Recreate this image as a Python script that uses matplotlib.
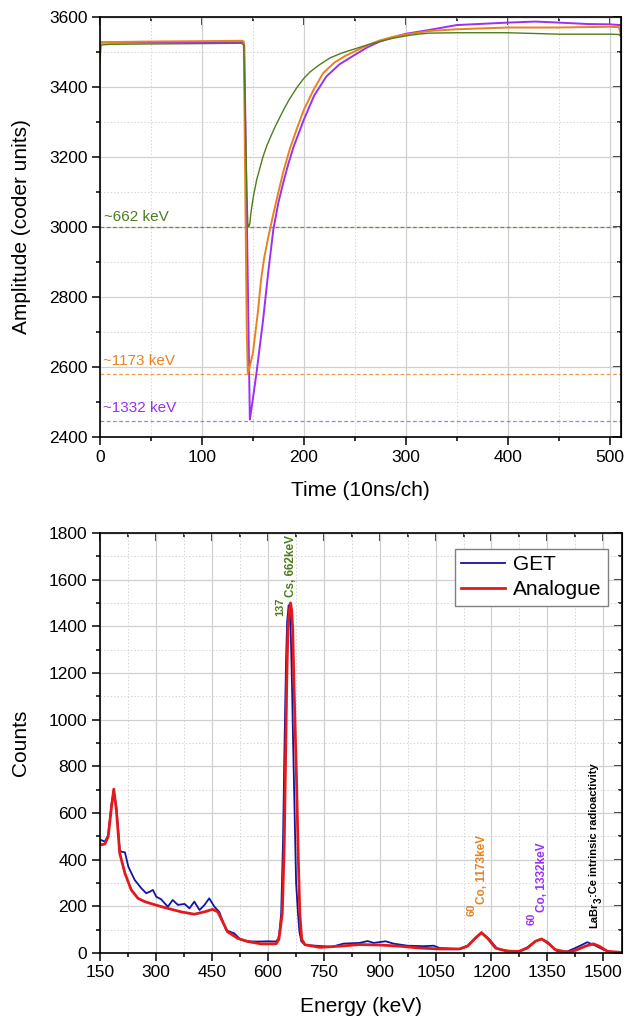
import matplotlib
matplotlib.use('Agg')
import matplotlib.pyplot as plt
from matplotlib.ticker import MultipleLocator
from matplotlib.transforms import offset_copy

plt.rcParams['font.family'] = ['Liberation Sans', 'DejaVu Sans']
plt.rcParams['mathtext.fontset'] = 'custom'
plt.rcParams['mathtext.rm'] = 'Liberation Sans'
plt.rcParams['mathtext.bf'] = 'Liberation Sans:bold'
plt.rcParams['mathtext.default'] = 'regular'

# ---------------- Top panel: pulses ----------------
green_ch = [0, 1, 10, 50, 100, 139, 141, 142, 143, 144, 145, 146, 147, 148, 150.5, 153.7, 157, 160, 164,
            168, 172, 176.5, 181, 186, 193, 200, 206, 215, 225.5, 237, 250, 262, 274.5, 287, 300, 312,
            323, 350, 400, 450, 500, 509, 511]
green_val = [3472, 3520, 3522, 3523, 3524, 3525, 3520, 3400, 3250, 3100, 3010, 3000, 3010, 3040, 3088,
             3135, 3170, 3202, 3235, 3262, 3288, 3314, 3340, 3366, 3398, 3425, 3443, 3463, 3483, 3497,
             3509, 3520, 3530, 3539, 3546, 3551, 3554, 3555, 3555, 3551, 3551, 3550, 3544]

orange_ch = [0, 1, 50, 100, 139, 141, 144, 145, 146, 150, 155, 158, 161, 165, 169.5, 175, 180, 186,
             193, 200, 210, 219, 230, 240, 250, 262, 274.5, 287, 300, 323, 350, 400, 450, 500, 509, 511]
orange_val = [3525, 3528, 3530, 3531, 3532, 3530, 2700, 2583, 2590, 2640, 2760, 2850, 2911, 2970, 3030,
              3100, 3160, 3221, 3280, 3335, 3395, 3440, 3470, 3488, 3502, 3519, 3533, 3543, 3550, 3560,
              3565, 3570, 3570, 3572, 3571, 3549]

purple_ch = [0, 1, 100, 140, 141.5, 147, 150, 153.5, 160, 165, 170, 175, 179.7, 185, 190, 200, 210,
             222, 235, 250, 262, 274.5, 287, 300, 323, 350, 400, 427, 450, 478, 500, 510, 511]
purple_val = [3525, 3527, 3528, 3528, 3520, 2450, 2510, 2583, 2735, 2870, 2992, 3070, 3126, 3183, 3230,
              3307, 3375, 3430, 3465, 3492, 3513, 3530, 3542, 3552, 3563, 3577, 3584, 3587, 3584, 3580,
              3579, 3577, 3572]

level_662 = 3000
level_1173 = 2580
level_1332 = 2446

# ---------------- Bottom panel: spectra ----------------
ana_E = [150, 153, 163, 172, 181, 187, 194, 203, 217, 234, 252, 270, 300, 332, 368, 403, 430, 452, 466,
         479, 492, 519, 546, 582, 617, 623, 630, 639, 644, 647, 651, 654, 658, 661, 664, 667, 670, 677,
         682, 686, 691, 700, 739, 793, 846, 900, 954, 1007, 1061, 1114, 1136, 1157, 1173, 1189, 1211,
         1243, 1275, 1296, 1318, 1334, 1350, 1371, 1404, 1425, 1452, 1473, 1489, 1511, 1543, 1550]
ana_counts = [470, 463, 467, 498, 626, 702, 612, 427, 341, 270, 234, 220, 205, 191, 176, 166, 176, 187,
              176, 134, 91, 63, 49, 39, 39, 40, 59, 170, 450, 750, 1170, 1384, 1470, 1500, 1470, 1384,
              1170, 750, 400, 170, 59, 35, 24, 29, 36, 34, 29, 21, 17, 17, 29, 64, 86, 64, 21, 7, 7, 21,
              50, 60, 46, 14, 3, 11, 29, 39, 29, 7, 3, 2]

get_E = [150, 153, 163, 172, 181, 187, 194, 203, 207, 217, 226, 243, 261, 274, 283, 292, 301, 314, 332,
         345, 359, 377, 390, 403, 417, 430, 443, 457, 470, 488, 500, 510, 528, 555, 582, 600, 622, 628,
         631, 636, 641, 645, 649, 652, 656, 659, 662, 665, 668, 672, 676, 681, 685, 690, 700, 729, 771,
         803, 846, 868, 884, 916, 937, 975, 1018, 1045, 1061, 1114, 1136, 1157, 1173, 1195, 1216, 1243,
         1275, 1296, 1318, 1334, 1355, 1377, 1404, 1425, 1457, 1479, 1500, 1521, 1550]
get_counts = [480, 484, 477, 505, 640, 692, 627, 441, 434, 431, 370, 313, 277, 256, 262, 270, 241, 230,
              198, 227, 206, 210, 191, 220, 184, 205, 234, 198, 176, 98, 90, 84, 56, 49, 49, 50, 49, 60,
              84, 170, 484, 900, 1250, 1420, 1490, 1470, 1350, 1150, 900, 600, 300, 170, 90, 50, 34, 31,
              26, 40, 43, 51, 43, 50, 40, 31, 29, 31, 21, 17, 31, 64, 89, 57, 17, 10, 7, 24, 50, 60, 36,
              7, 7, 21, 46, 31, 14, 4, 3]

C_GREEN = '#4e7d1c'
C_ORANGE = '#e8821e'
C_PURPLE = '#9b2ff5'
C_BLUE = '#1414a0'
C_RED = '#e31a1c'

fig = plt.figure(figsize=(6.26, 10.18), dpi=100)
ax1 = fig.add_axes([0.1597, 0.5707, 0.8323, 0.4126])
ax2 = fig.add_axes([0.1597, 0.0639, 0.8339, 0.4126])


def style(ax, xmaj, xmin, ymaj, ymin):
    ax.xaxis.set_major_locator(MultipleLocator(xmaj))
    ax.xaxis.set_minor_locator(MultipleLocator(xmin))
    ax.yaxis.set_major_locator(MultipleLocator(ymaj))
    ax.yaxis.set_minor_locator(MultipleLocator(ymin))
    ax.grid(which='major', color='#d0d0d0', lw=0.9, ls='-')
    ax.grid(which='minor', color='#d6d6d6', lw=0.7, ls=(0, (1.5, 2)))
    ax.set_axisbelow(True)
    ax.tick_params(which='both', direction='out', top=False, right=False,
                   labelsize=12.5, width=1.1, pad=3)
    ax.tick_params(which='major', length=6)
    ax.tick_params(which='minor', length=3)
    for s in ax.spines.values():
        s.set_linewidth(1.2)
    sx = ax.secondary_xaxis('top')
    sx.xaxis.set_major_locator(MultipleLocator(xmaj))
    sx.xaxis.set_minor_locator(MultipleLocator(xmin))
    sx.tick_params(which='both', direction='in', labeltop=False, width=1.1)
    sx.tick_params(which='major', length=6)
    sx.tick_params(which='minor', length=3)
    sy = ax.secondary_yaxis('right')
    sy.yaxis.set_major_locator(MultipleLocator(ymaj))
    sy.yaxis.set_minor_locator(MultipleLocator(ymin))
    sy.tick_params(which='both', direction='in', labelright=False, width=1.1)
    sy.tick_params(which='major', length=6)
    sy.tick_params(which='minor', length=3)


# ---- top
ax1.axhline(level_662, color=C_GREEN, lw=0.9, ls=(0, (3, 2)), alpha=0.8)
ax1.axhline(level_1173, color=C_ORANGE, lw=0.9, ls=(0, (3, 2)), alpha=0.8)
ax1.axhline(level_1332, color=C_PURPLE, lw=0.9, ls=(0, (3, 2)), alpha=0.7)
ax1.plot(purple_ch, purple_val, color=C_PURPLE, lw=1.4)
ax1.plot(orange_ch, orange_val, color=C_ORANGE, lw=1.4)
ax1.plot(green_ch, green_val, color=C_GREEN, lw=1.0)
ax1.text(4, level_662 + 8, '~662 keV', color=C_GREEN, fontsize=11, va='bottom', ha='left')
ax1.text(3, level_1173 + 16, '~1173 keV', color=C_ORANGE, fontsize=11, va='bottom', ha='left')
ax1.text(3, level_1332 + 16, '~1332 keV', color=C_PURPLE, fontsize=11, va='bottom', ha='left')
ax1.set_xlim(0, 511)
ax1.set_ylim(2400, 3600)
style(ax1, 100, 50, 200, 100)

# ---- bottom
ax2.plot(get_E, get_counts, color=C_BLUE, lw=1.3, label='GET')
ax2.plot(ana_E, ana_counts, color=C_RED, lw=2.0, label='Analogue')
ax2.set_xlim(150, 1550)
ax2.set_ylim(0, 1800)
style(ax2, 150, 75, 200, 100)
leg = ax2.legend(loc='upper right', bbox_to_anchor=(0.973, 0.962), borderaxespad=0,
                 fontsize=15, fancybox=False, framealpha=1, edgecolor='#808080',
                 handlelength=2.1, handletextpad=0.4, borderpad=0.3, labelspacing=0.3)
leg.get_frame().set_linewidth(1.0)

rot_kw = dict(rotation=90, rotation_mode='anchor', va='baseline', fontweight='bold')


def isotope(x, y, mass, rest, color):
    ax2.text(x, y, rest, color=color, ha='left', fontsize=8.5, **rot_kw)
    tr = offset_copy(ax2.transData, fig=fig, x=-11, y=0, units='dots')
    ax2.text(x, y, mass, color=color, ha='right', fontsize=8, transform=tr, **rot_kw)


isotope(670, 1525, '137', 'Cs, 662keV', C_GREEN)
isotope(1183, 210, '60', 'Co, 1173keV', C_ORANGE)
isotope(1344, 174, '60', 'Co, 1332keV', C_PURPLE)

# LaBr3 label in pieces (subscript)
fig.canvas.draw()
renderer = fig.canvas.get_renderer()
t1 = ax2.text(1484, 107, 'LaBr', color='black', ha='left', fontsize=8, **rot_kw)
h1 = t1.get_window_extent(renderer).height
t2 = ax2.text(1484, 107, '3', color='black', ha='left', fontsize=7,
              transform=offset_copy(ax2.transData, fig=fig, x=4, y=h1, units='dots'), **rot_kw)
h2 = t2.get_window_extent(renderer).height
ax2.text(1484, 107, ':Ce intrinsic radioactivity', color='black', ha='left', fontsize=8,
         transform=offset_copy(ax2.transData, fig=fig, x=0, y=h1 + h2, units='dots'), **rot_kw)

# axis labels
fig.text(0.035, 0.777, 'Amplitude (coder units)', rotation=90, ha='center', va='center', fontsize=15)
fig.text(0.576, 1 - 490 / 1018, 'Time (10ns/ch)', ha='center', va='center', fontsize=15)
fig.text(0.0335, 1 - 743 / 1018, 'Counts', rotation=90, ha='center', va='center', fontsize=15)
fig.text(0.576, 1 - 1007 / 1018, 'Energy (keV)', ha='center', va='center', fontsize=15)

fig.savefig('out.png', dpi=100)
